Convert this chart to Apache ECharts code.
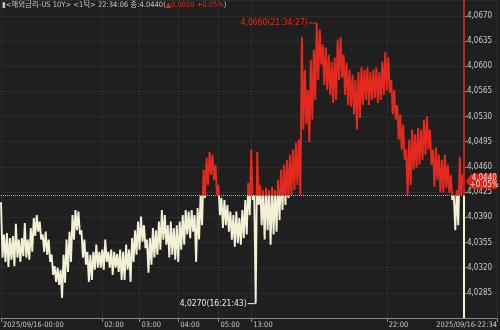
<!DOCTYPE html>
<html><head><meta charset="utf-8">
<script src="https://cdn.jsdelivr.net/npm/echarts@6/dist/echarts.min.js"></script>
<style>html,body{margin:0;padding:0;background:#1f1f1f}#c{width:500px;height:330px}</style>
</head><body><div id="c"></div>
<script>
// high / low of each tick group (left to right)
const hi = [
4.0411,4.0366,4.0368,4.0361,4.0364,4.0381,4.0359,4.0361,4.0382,4.0359,
4.0375,4.0389,4.0393,4.0384,4.0366,4.0370,4.0359,4.0338,4.0322,4.0320,
4.0317,4.0338,4.0359,4.0370,4.0393,4.0400,4.0398,4.0372,4.0359,4.0342,
4.0338,4.0342,4.0352,4.0342,4.0345,4.0359,4.0342,4.0345,4.0342,4.0339,
4.0345,4.0342,4.0352,4.0345,4.0361,4.0372,4.0384,4.0391,4.0379,4.0359,
4.0361,4.0375,4.0372,4.0384,4.0400,4.0393,4.0379,4.0384,4.0375,4.0379,
4.0384,4.0393,4.0400,4.0398,4.0400,4.0393,4.0403,4.0421,4.0456,4.0473,
4.0481,4.0477,4.0463,4.0435,4.0417,4.0414,4.0407,4.0398,4.0393,4.0398,
4.0389,4.0400,4.0414,4.0438,4.0484,4.0421,4.0481,4.0435,4.0428,4.0431,
4.0428,4.0432,4.0428,4.0442,4.0456,4.0463,4.0470,4.0477,4.0484,4.0494,
4.0498,4.0641,4.0595,4.0567,4.0609,4.0623,4.0660,4.0651,4.0630,4.0626,
4.0616,4.0606,4.0612,4.0637,4.0641,4.0616,4.0605,4.0595,4.0588,4.0581,
4.0592,4.0599,4.0595,4.0598,4.0592,4.0595,4.0598,4.0592,4.0606,4.0620,
4.0612,4.0581,4.0567,4.0546,4.0533,4.0519,4.0484,4.0498,4.0512,4.0505,
4.0514,4.0512,4.0526,4.0530,4.0512,4.0484,4.0487,4.0477,4.0470,4.0477,
4.0463,4.0449,4.0421,4.0428,4.0474,4.0449
];
const lo = [
4.0334,4.0328,4.0321,4.0331,4.0322,4.0334,4.0328,4.0336,4.0334,4.0331,
4.0342,4.0364,4.0370,4.0359,4.0342,4.0338,4.0328,4.0310,4.0300,4.0296,
4.0278,4.0299,4.0314,4.0328,4.0359,4.0372,4.0366,4.0334,4.0324,4.0300,
4.0303,4.0317,4.0320,4.0320,4.0317,4.0328,4.0320,4.0310,4.0320,4.0314,
4.0303,4.0303,4.0317,4.0300,4.0328,4.0338,4.0345,4.0356,4.0347,4.0313,
4.0324,4.0334,4.0338,4.0345,4.0359,4.0352,4.0334,4.0338,4.0331,4.0328,
4.0345,4.0352,4.0366,4.0361,4.0370,4.0328,4.0359,4.0379,4.0417,4.0435,
4.0449,4.0442,4.0421,4.0393,4.0375,4.0379,4.0370,4.0359,4.0349,4.0354,
4.0352,4.0361,4.0366,4.0393,4.0414,4.0270,4.0407,4.0379,4.0359,4.0372,
4.0352,4.0366,4.0370,4.0386,4.0400,4.0407,4.0417,4.0421,4.0428,4.0435,
4.0421,4.0512,4.0519,4.0494,4.0526,4.0553,4.0581,4.0602,4.0574,4.0567,
4.0560,4.0549,4.0553,4.0581,4.0584,4.0560,4.0546,4.0544,4.0533,4.0512,
4.0528,4.0546,4.0553,4.0546,4.0553,4.0556,4.0549,4.0553,4.0560,4.0567,
4.0563,4.0533,4.0526,4.0498,4.0484,4.0470,4.0421,4.0435,4.0456,4.0459,
4.0463,4.0470,4.0477,4.0484,4.0463,4.0432,4.0442,4.0425,4.0424,4.0431,
4.0424,4.0414,4.0372,4.0379,4.0421,4.0440
];
const prevClose = 4.0420;
const lastPrice = 4.0440;
const changeText = '+0.05%';
const tickLabels = ['2025/09/16-00:00','02:00','03:00','04:00','05:00','13:00','22:00','2025/09/16-22:34'];
const tickIndex = [0,68,93,119,146,168,259,333];
const maxLabel = '4,0660(21:34:27)';
const minLabel = '4,0270(16:21:43)';
const titleMain = '▮<해외금리-US 10Y> <1틱> 22:34:06 종:4.0440(';
const titleChange = '▲0.0020 +0.05%';

const RED = '#e42a1e', CREAM = '#f3f0d6', TXT = '#c8c8c8';
const FONT = "'Liberation Sans Narrow','DejaVu Sans Condensed','Liberation Sans','Noto Sans CJK KR',sans-serif";

const seq = [];
for (let i = 0; i < hi.length; i++) { seq.push(hi[i]); seq.push(lo[i]); }
const data = seq.map((v, i) => [i, v]);
const lastIdx = seq.length - 1;
const nCat = tickIndex[tickIndex.length - 1] + 1;
const categories = new Array(nCat).fill('');
tickIndex.forEach((k, j) => { categories[k] = tickLabels[j]; });
let maxI = 0, minI = 0;
seq.forEach((v, i) => { if (v > seq[maxI]) maxI = i; if (v < seq[minI]) minI = i; });

const yMin = 4.0250, yMax = 4.0692;
const showCat = (idx, val) => val !== '';

const chart = echarts.init(document.getElementById('c'));
chart.setOption({
  animation: false,
  backgroundColor: '#1f1f1f',
  grid: { left: 0, right: 0, top: 0, bottom: 12 },
  xAxis: {
    type: 'category', data: categories, boundaryGap: false,
    axisLine: { lineStyle: { color: '#8a8a8a', width: 1 } },
    axisTick: { show: true, interval: showCat, length: 4, lineStyle: { color: '#8a8a8a' } },
    axisLabel: { interval: showCat, align: 'left', alignMaxLabel: 'right', color: TXT, fontSize: 7.5, fontFamily: FONT, margin: 3, padding: [0, 0, 0, 2] },
    splitLine: { show: true, interval: showCat, lineStyle: { color: '#383838', type: 'dotted' } }
  },
  yAxis: {
    type: 'value', position: 'right', offset: -33, min: yMin, max: yMax, interval: 0.0035,
    axisLine: { show: false },
    axisTick: { show: true, length: 3, inside: false, lineStyle: { color: '#8a8a8a' } },
    axisLabel: { showMinLabel: false, showMaxLabel: false, color: TXT, fontSize: 8, fontFamily: FONT, margin: 3,
      formatter: v => v.toFixed(4).replace('.', ',') },
    splitLine: { show: true, lineStyle: { color: '#383838', type: 'dotted' } }
  },
  series: [{
    type: 'line', data: data, step: 'end', symbol: 'none', lineStyle: { width: 1.9, color: CREAM },
    markLine: {
      silent: true, symbol: ['none', 'none'], label: { show: false },
      data: [
        [{ coord: [0, prevClose], lineStyle: { color: '#b0b0b0', type: 'dotted', width: 1 } }, { coord: [lastIdx, prevClose] }],
        [{ coord: [lastIdx, prevClose], lineStyle: { color: '#b3261c', type: 'solid', width: 2 } }, { coord: [lastIdx, yMax] }],
        [{ coord: [lastIdx, yMin], lineStyle: { color: CREAM, type: 'solid', width: 2 } }, { coord: [lastIdx, prevClose] }]
      ]
    },
    markPoint: {
      silent: true,
      data: [
        { coord: [maxI, seq[maxI]], symbol: 'rect', symbolSize: [8, 1], symbolOffset: [-4, 0], itemStyle: { color: RED },
          label: { show: true, position: 'left', distance: 1, formatter: maxLabel, color: RED, fontSize: 8.5, fontFamily: FONT } },
        { coord: [minI, seq[minI]], symbol: 'rect', symbolSize: [8, 1], symbolOffset: [-4, 0], itemStyle: { color: CREAM },
          label: { show: true, position: 'left', distance: 1, formatter: minLabel, color: '#e8e8e8', fontSize: 8.5, fontFamily: FONT } },
        { coord: [lastIdx, lastPrice], symbol: 'path://M0,7L6,0L32,0L32,14L6,14Z', symbolSize: [31, 15], symbolOffset: [17, 0],
          itemStyle: { color: '#d42a1e' },
          label: { show: true, position: 'inside', offset: [3, 0], formatter: lastPrice.toFixed(4).replace('.', ',') + '\n' + changeText,
            color: '#ffd6cc', fontSize: 8, lineHeight: 7, fontFamily: FONT } }
      ]
    }
  }],
  graphic: [{
    type: 'text', left: 2, top: 1,
    style: { text: '{g|' + titleMain + '}{r|' + titleChange + '}{g|)}',
      rich: { g: { fill: TXT, fontSize: 7.5, fontFamily: FONT }, r: { fill: RED, fontSize: 7.5, fontFamily: FONT } } }
  }]
});
// colour the price line red above the previous close and cream below, split at the axis position of prevClose
const basePx = chart.convertToPixel({ yAxisIndex: 0 }, prevClose);
const topPx = chart.convertToPixel({ yAxisIndex: 0 }, yMax);
const botPx = chart.convertToPixel({ yAxisIndex: 0 }, yMin);
const f = (basePx - topPx) / (botPx - topPx);
chart.setOption({ series: [{ lineStyle: { color: new echarts.graphic.LinearGradient(0, topPx, 0, botPx, [
  { offset: 0, color: RED }, { offset: f, color: RED }, { offset: f, color: CREAM }, { offset: 1, color: CREAM }
], true) } }] });
</script></body></html>
